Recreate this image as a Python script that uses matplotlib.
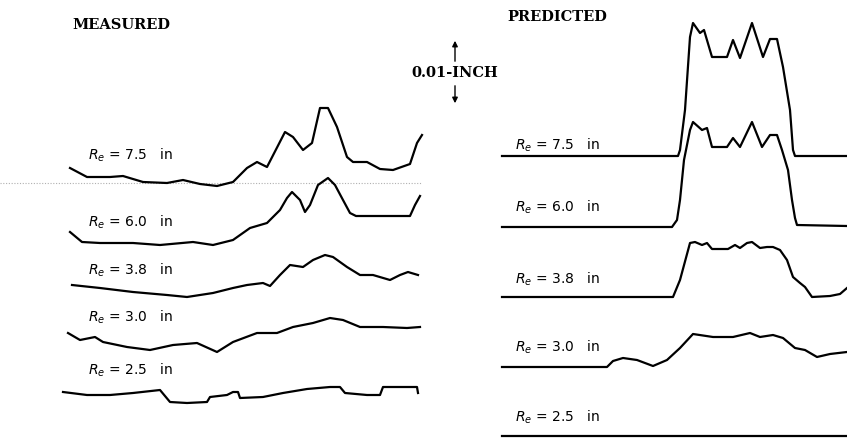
import matplotlib.pyplot as plt

# ==============
# [Profile data]
# ==============
# measured profiles: position along the pavement and deflection above baseline
meas_labels = ['7.5', '6.0', '3.8', '3.0', '2.5']
meas_x = [
    [70, 87, 110, 123, 143, 167, 183, 200, 217, 233, 247, 257, 267, 285, 293,
     303, 312, 320, 328, 337, 347, 353, 367, 380, 393, 410, 417, 422],
    [70, 82, 100, 133, 160, 193, 213, 233, 250, 267, 280, 287, 292, 300, 305,
     310, 318, 328, 335, 343, 350, 356, 410, 415, 420],
    [72, 100, 133, 167, 187, 213, 233, 247, 263, 270, 280, 290, 303, 313, 325,
     333, 347, 360, 373, 390, 400, 408, 418],
    [68, 80, 95, 103, 127, 150, 173, 197, 217, 233, 257, 277, 293, 313, 330,
     343, 360, 383, 407, 420],
    [63, 87, 110, 133, 160, 170, 187, 207, 210, 227, 233, 238, 240, 263, 283,
     307, 330, 340, 345, 367, 380, 383, 417, 418],
]
meas_h = [
    [15, 6, 6, 7, 1, 0, 3, -1, -3, 1, 15, 21, 16, 51, 46, 33, 40, 75, 75, 56,
     26, 21, 21, 14, 13, 19, 40, 48],
    [11, 1, 0, 0, -2, 1, -2, 3, 15, 20, 33, 45, 51, 43, 31, 38, 58, 65, 58,
     43, 30, 27, 27, 38, 47],
    [10, 7, 3, 0, -2, 2, 7, 10, 12, 9, 20, 30, 28, 35, 40, 38, 28, 20, 20, 15,
     20, 23, 20],
    [17, 10, 13, 8, 3, 0, 5, 7, -2, 8, 17, 17, 23, 27, 32, 30, 23, 23, 22, 23],
    [3, 0, 0, 2, 5, -7, -8, -7, -2, 0, 3, 3, -3, -2, 2, 6, 8, 8, 2, 0, 0, 8, 8,
     2],
]

# predicted profiles
pred_labels = ['7.5', '6.0', '3.8', '3.0', '2.5']
pred_x = [
    [502, 678, 680, 685, 690, 693, 700, 704, 712, 727, 733, 740, 752, 763,
     770, 777, 783, 790, 793, 795, 847],
    [502, 672, 677, 680, 684, 690, 693, 702, 707, 712, 727, 733, 740, 752,
     762, 770, 777, 782, 788, 792, 795, 797, 847],
    [502, 673, 680, 690, 695, 702, 707, 712, 728, 735, 740, 747, 752, 760,
     767, 773, 780, 787, 793, 800, 805, 812, 830, 840, 847],
    [502, 607, 613, 623, 637, 653, 667, 680, 693, 713, 733, 750, 760, 773,
     783, 795, 805, 817, 830, 847],
    [502, 847],
]
pred_h = [
    [0, 0, 6, 46, 119, 133, 123, 126, 99, 99, 116, 98, 133, 99, 117, 117, 89,
     46, 6, 0, 0],
    [0, 0, 7, 27, 67, 97, 105, 97, 99, 80, 80, 89, 80, 105, 80, 92, 92, 77,
     57, 27, 9, 2, 1],
    [0, 0, 17, 54, 55, 52, 54, 48, 48, 52, 49, 54, 55, 49, 50, 50, 47, 37, 20,
     14, 10, 0, 1, 3, 9],
    [0, 0, 6, 9, 7, 1, 7, 19, 33, 30, 30, 34, 30, 32, 29, 19, 17, 10, 13, 15],
    [0, 0],
]

# layout (page coordinates, y down)
meas_base = [183, 243, 295, 350, 395]
meas_label_y = [155, 222, 270, 317, 370]
pred_base = [156, 227, 297, 367, 436]
pred_label_y = [145, 207, 279, 347, 417]

# ======
# [Plot]
# ======
fig = plt.figure(figsize=(8.47, 4.38), dpi=100)
ax = fig.add_axes([0, 0, 1, 1])
ax.set_xlim(0, 847)
ax.set_ylim(438, 0)
ax.axis('off')

# faint reference line left on the scan
ax.plot([0, 422], [meas_base[0], meas_base[0]], color='#b0b0b0', lw=0.8,
        ls=(0, (1, 1.5)))

for xs, hs, b in zip(meas_x, meas_h, meas_base):
    ax.plot(xs, [b - h for h in hs], color='black', lw=1.6)
for xs, hs, b in zip(pred_x, pred_h, pred_base):
    ax.plot(xs, [b - h for h in hs], color='black', lw=1.6)

for lab, y in zip(meas_labels, meas_label_y):
    ax.text(88, y, r'$R_e$ = ' + lab + '   in', fontsize=10, va='center',
            ha='left', family='DejaVu Sans')
for lab, y in zip(pred_labels, pred_label_y):
    ax.text(515, y, r'$R_e$ = ' + lab + '   in', fontsize=10, va='center',
            ha='left', family='DejaVu Sans')

serif = dict(family='DejaVu Serif', fontweight='bold', fontsize=10.5)
ax.text(72, 25, 'MEASURED', va='center', ha='left', **serif)
ax.text(507, 17, 'PREDICTED', va='center', ha='left', **serif)
ax.text(455, 73, '0.01-INCH', va='center', ha='center', **serif)
ax.annotate('', xy=(455, 38), xytext=(455, 64),
            arrowprops=dict(arrowstyle='-|>', color='black', lw=1,
                            mutation_scale=8))
ax.annotate('', xy=(455, 106), xytext=(455, 83),
            arrowprops=dict(arrowstyle='-|>', color='black', lw=1,
                            mutation_scale=8))

plt.savefig('out.png', dpi=100)
